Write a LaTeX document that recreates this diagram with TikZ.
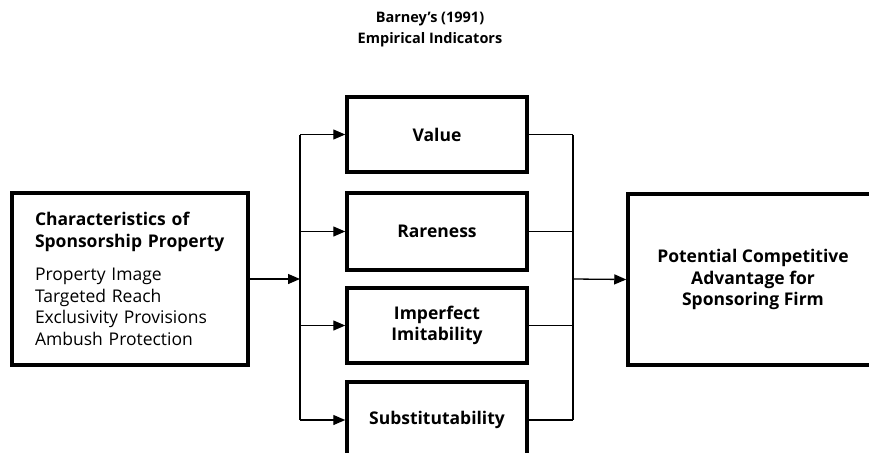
\documentclass[tikz,border=0pt]{standalone}
\usepackage{fontspec}
\setmainfont{Open Sans}
\usetikzlibrary{arrows.meta}

\begin{document}
\begin{tikzpicture}[x=1pt,y=-1pt]
\tikzset{block/.style = {rectangle, draw=black, line width=3.5pt, fill=white, minimum width=180pt, minimum height=75pt, font=\fontsize{17.5}{21.5}\selectfont\bfseries, align=center}}
\tikzset{link/.style = {line width=1.3pt}}
\tikzset{feed/.style = {line width=1.3pt, -{Triangle[length=12pt,width=10pt]}}}
\useasboundingbox (0,0) rectangle (869,452);

% heading
\node[font=\fontsize{14.5}{21}\selectfont\bfseries, align=center] (head) at (430,30) {Barney’s (1991)\\Empirical Indicators};

% input and output
\node[block, minimum width=236pt, minimum height=172pt, text width=190pt, align=left, font=\fontsize{17.5}{21.5}\selectfont] (prop) at (130,279)
  {\textbf{Characteristics of}\\\textbf{Sponsorship Property}\\[12pt]Property Image\\Targeted Reach\\Exclusivity Provisions\\Ambush Protection};
\node[block, minimum width=250pt, minimum height=171pt] (adv) at (753,279.5) {Potential Competitive\\Advantage for\\Sponsoring Firm};

% indicators
\node[block] (value) at (437,134.5) {Value};
\node[block, minimum height=77pt] (rare) at (437,231.5) {Rareness};
\node[block] (imit) at (437,325.5) {Imperfect\\Imitability};
\node[block, minimum height=76pt] (subst) at (437,420) {Substitutability};

\coordinate (split) at (300,279);
\coordinate (join) at (573,279);

\draw[feed] (prop.east) -- (split);
\draw[link] (value.west -| split) -- (subst.west -| split);
\foreach \n in {value,rare,imit,subst}
  \draw[feed] (\n.west -| split) -- (\n.west);

\foreach \n in {value,rare,imit,subst}
  \draw[link] (\n.east) -- (\n.east -| join);
\draw[link] (value.east -| join) -- (subst.east -| join);
\draw[feed] (join) -- (adv.west);

\end{tikzpicture}
\end{document}
